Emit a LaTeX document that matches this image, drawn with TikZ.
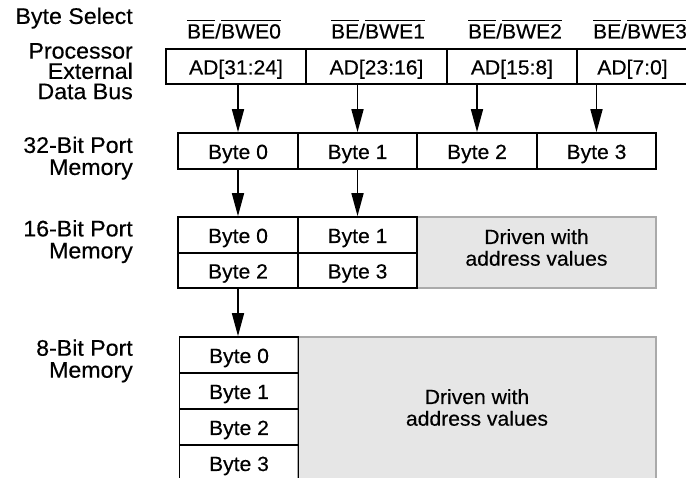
\documentclass[tikz,border=0pt]{standalone}
\usepackage{fontspec}
\setmainfont{Liberation Sans}
\newfontfamily\lblfont[FakeStretch=1.03,FakeBold=0.4]{Liberation Sans}
\newfontfamily\boxfont[FakeStretch=1.03,FakeBold=0.4]{Liberation Sans}
\usetikzlibrary{arrows.meta}
\definecolor{grayfill}{RGB}{230,230,230}
\definecolor{grayline}{RGB}{170,170,170}
\newcommand\ovbar[1]{\vbox{\hrule height 1.3pt\kern 2.3pt\hbox{\vrule height 14.7pt width 0pt depth 0pt #1}}}
\begin{document}
\begin{tikzpicture}[x=1pt,y=-1pt,
  lbl/.style={font=\lblfont\fontsize{22.5}{22}\selectfont, align=right, inner sep=0pt, anchor=north east},
  cell/.style={draw, line width=1.7pt, font=\boxfont\fontsize{20.5}{21.7}\selectfont, inner sep=0pt, text height=16pt, text depth=0pt, minimum height=36pt},
  graybox/.style={draw=grayline, fill=grayfill, line width=1.7pt, inner sep=0pt},
  drv/.style={font=\boxfont\fontsize{20.5}{21.7}\selectfont, align=center, inner sep=0pt},
  sel/.style={font=\boxfont\fontsize{20.5}{21.7}\selectfont, inner sep=0pt, anchor=base},
  arr/.style={line width=1.7pt, -{Triangle[length=23pt,width=12pt]}}]
\useasboundingbox (0,0) rectangle (686,478);

% left labels
\node[lbl] (lsel) at (133,7.4) {Byte Select};
\node[lbl, font=\lblfont\fontsize{22.5}{20.3}\selectfont] (lbus) at (133,42.9) {Processor\\External\\Data Bus};
\node[lbl] (l32) at (133,136.4) {32-Bit Port\\Memory};
\node[lbl] (l16) at (133,219.9) {16-Bit Port\\Memory};
\node[lbl] (l8) at (133,339.2) {8-Bit Port\\Memory};

% byte select labels
\node[sel] (be0) at (234,38.5) {\ovbar{BE}/\ovbar{BWE0}};
\node[sel] (be1) at (378,38.5) {\ovbar{BE}/\ovbar{BWE1}};
\node[sel] (be2) at (515,38.5) {\ovbar{BE}/\ovbar{BWE2}};
\node[sel] (be3) at (640,38.5) {\ovbar{BE}/\ovbar{BWE3}};

% processor bus
\node[cell, minimum width=140pt, minimum height=35pt] (ad1) at (236,66.5) {AD[31:24]};
\node[cell, minimum width=141pt, minimum height=35pt] (ad2) at (376.5,66.5) {AD[23:16]};
\node[cell, minimum width=130pt, minimum height=35pt] (ad3) at (512,66.5) {AD[15:8]};
\node[cell, minimum width=111pt, minimum height=35pt] (ad4) at (632.5,66.5) {AD[7:0]};

% 32-bit memory
\node[cell, minimum width=120pt] (c1) at (238,151) {Byte 0};
\node[cell, minimum width=119pt] (c2) at (357.5,151) {Byte 1};
\node[cell, minimum width=120pt] (c3) at (477,151) {Byte 2};
\node[cell, minimum width=119pt] (c4) at (596.5,151) {Byte 3};

% 16-bit memory
\node[graybox, minimum width=239pt, minimum height=71pt] (g16) at (536.5,252.5) {};
\node[drv] (t16) at (536.5,247.5) {Driven with\\address values};
\node[cell, minimum width=120pt] (m1) at (238,235) {Byte 0};
\node[cell, minimum width=119pt] (m2) at (357.5,235) {Byte 1};
\node[cell, minimum width=120pt, minimum height=35pt] (m3) at (238,270.5) {Byte 2};
\node[cell, minimum width=119pt, minimum height=35pt] (m4) at (357.5,270.5) {Byte 3};

% 8-bit memory
\node[graybox, minimum width=358pt, minimum height=145pt] (g8) at (477,409.5) {};
\node[drv] (t8) at (477,407.5) {Driven with\\address values};
\node[cell, minimum width=119pt] (e1) at (239,355) {Byte 0};
\node[cell, minimum width=119pt] (e2) at (239,391) {Byte 1};
\node[cell, minimum width=119pt] (e3) at (239,427) {Byte 2};
\node[cell, minimum width=119pt] (e4) at (239,463) {Byte 3};

% arrows
\draw[arr] (c1.north |- ad1.south) -- (c1.north);
\draw[arr] (c2.north |- ad2.south) -- (c2.north);
\draw[arr] (c3.north |- ad3.south) -- (c3.north);
\draw[arr] (c4.north |- ad4.south) -- (c4.north);
\draw[arr] (c1.south) -- (m1.north);
\draw[arr] (c2.south) -- (m2.north);
\draw[arr] (m3.south) -- (m3.south |- e1.north);
\end{tikzpicture}
\end{document}
